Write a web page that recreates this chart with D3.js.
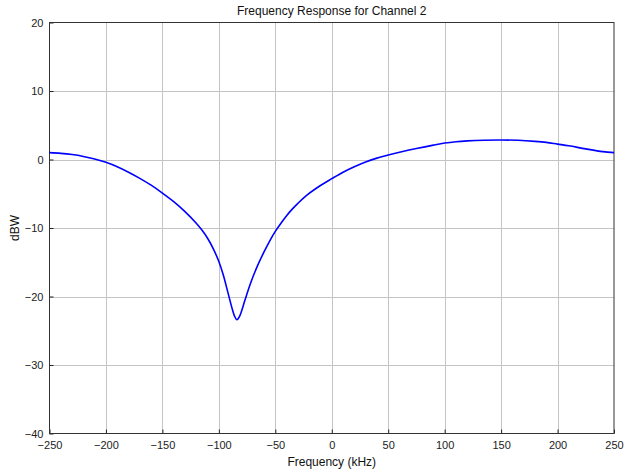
<!DOCTYPE html>
<html>
<head>
<meta charset="utf-8">
<script src="https://cdn.jsdelivr.net/npm/d3@7"></script>
<style>
  html, body { margin: 0; padding: 0; background: #fff; }
  svg { display: block; font-family: "Liberation Sans", Arial, sans-serif; }
</style>
</head>
<body>
<svg id="chart" width="635" height="471"></svg>
<script>
// Channel 2 magnitude response samples (kHz, dBW)
const freqKHz = [-250, -240, -230, -220, -210, -200, -190, -180, -170, -160, -150, -140, -130, -120, -115, -110, -105, -100, -96, -92, -88, -86, -84, -82, -80, -77, -72, -66, -60, -55, -50, -45, -40, -35, -30, -22, -10, 0, 10, 20, 30, 40, 50, 60, 75, 90, 100, 110, 120, 135, 150, 165, 180, 190, 200, 210, 225, 240, 250];
const gainDBW = [1.0, 0.9, 0.72, 0.45, 0.08, -0.4, -1.05, -1.85, -2.75, -3.75, -4.9, -6.15, -7.6, -9.3, -10.3, -11.5, -13.0, -14.9, -16.9, -19.4, -21.9, -22.9, -23.4, -23.0, -22.2, -20.6, -18.1, -15.6, -13.5, -11.9, -10.5, -9.3, -8.2, -7.25, -6.4, -5.2, -3.8, -2.8, -1.85, -1.05, -0.35, 0.2, 0.65, 1.05, 1.6, 2.1, 2.4, 2.6, 2.72, 2.82, 2.85, 2.8, 2.65, 2.5, 2.25, 2.0, 1.55, 1.15, 1.0];
const xTicks = [-250, -200, -150, -100, -50, 0, 50, 100, 150, 200, 250];
const yTicks = [-40, -30, -20, -10, 0, 10, 20];

const svg = d3.select("#chart");
const L = 49.5, R = 614, T = 22.5, B = 433.5;

const x = d3.scaleLinear().domain([-250, 250]).range([L, R]);
const y = d3.scaleLinear().domain([-40, 20]).range([B, T]);

// grid
const grid = svg.append("g").attr("stroke", "#c4c4c4").attr("stroke-width", 1);
grid.selectAll("line.v").data(xTicks.slice(1, -1)).join("line")
  .attr("x1", d => Math.round(x(d)) + 0.5).attr("x2", d => Math.round(x(d)) + 0.5)
  .attr("y1", T).attr("y2", B);
grid.selectAll("line.h").data(yTicks.slice(1, -1)).join("line")
  .attr("y1", d => Math.round(y(d)) + 0.5).attr("y2", d => Math.round(y(d)) + 0.5)
  .attr("x1", L).attr("x2", R);

// axes
const xAxis = d3.axisBottom(x).tickValues(xTicks).tickSize(-4).tickPadding(8);
const yAxis = d3.axisLeft(y).tickValues(yTicks).tickSize(-4).tickPadding(6);

const gx = svg.append("g").attr("transform", `translate(0,${B})`).call(xAxis);
const gy = svg.append("g").attr("transform", `translate(${L},0)`).call(yAxis);
[gx, gy].forEach(g => {
  g.select(".domain").remove();
  g.selectAll(".tick line").attr("stroke", "#222");
  g.selectAll(".tick text").attr("font-size", 11).attr("fill", "#222")
    .attr("font-family", "\"Liberation Sans\", Arial, sans-serif");
});

// box
svg.append("rect").attr("x", L).attr("y", T).attr("width", R - L).attr("height", B - T)
  .attr("fill", "none").attr("stroke", "#333").attr("stroke-width", 1);

// response curve
const line = d3.line().x((d, i) => x(freqKHz[i])).y(d => y(d)).curve(d3.curveCatmullRom.alpha(0.5));
svg.append("path").datum(gainDBW)
  .attr("d", line).attr("fill", "none").attr("stroke", "#0000ff").attr("stroke-width", 1.6);

// labels
svg.append("text").attr("x", (L + R) / 2).attr("y", 15).attr("text-anchor", "middle")
  .attr("font-size", 12).attr("fill", "#111").text("Frequency Response for Channel 2");
svg.append("text").attr("x", (L + R) / 2).attr("y", 466).attr("text-anchor", "middle")
  .attr("font-size", 12).attr("fill", "#111").text("Frequency (kHz)");
svg.append("text").attr("transform", `translate(19,${(T + B) / 2}) rotate(-90)`)
  .attr("text-anchor", "middle").attr("font-size", 12).attr("fill", "#111").text("dBW");
</script>
</body>
</html>
